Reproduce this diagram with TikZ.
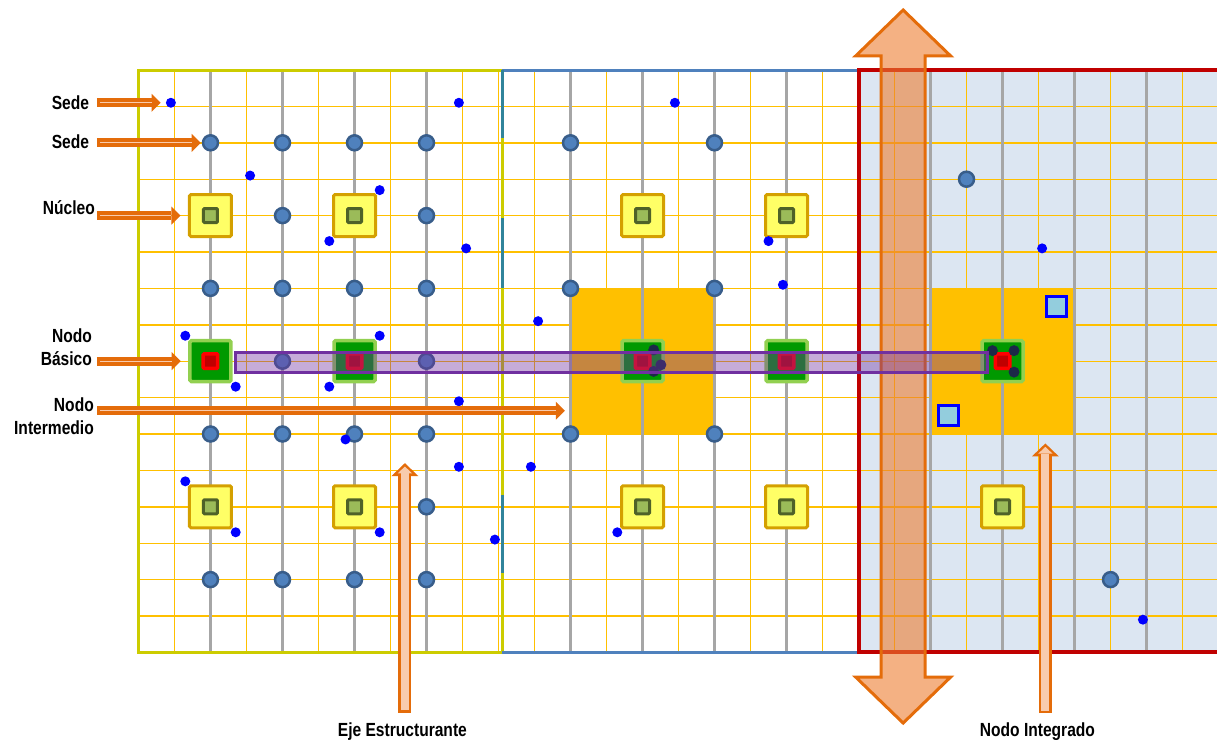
\documentclass[tikz,border=0pt]{standalone}
\usepackage{fontspec}
\newfontfamily\labfont{Liberation Sans}[FakeStretch=0.82]
\usetikzlibrary{arrows.meta}

\begin{document}
\begin{tikzpicture}[x=36pt, y=-36.4pt, line join=miter,
  >={Triangle[length=9pt, width=18pt, line width=0pt]},
  lab/.style={font=\labfont\bfseries\fontsize{19}{23}\selectfont, align=right, anchor=base east, inner sep=0pt},
  blab/.style={font=\labfont\bfseries\fontsize{19}{23}\selectfont, anchor=base, inner sep=0pt},
  gridy/.style={draw=gridc, line width=1.4pt},
  eje/.style={draw=ejec, line width=3.6pt},
  sede/.style={circle, draw=sedeb, fill=sedef, line width=2.5pt, minimum size=15pt, inner sep=0pt},
  bdot/.style={circle, fill=dotc, minimum size=10pt, inner sep=0pt},
  kdot/.style={circle, fill=kc, minimum size=11pt, inner sep=0pt},
  nucleo/.style={draw=nucb, fill=nucf, line width=3pt, rounded corners=1.5pt, minimum size=42pt, inner sep=0pt},
  nucin/.style={draw=nucib, fill=nucif, line width=3pt, rounded corners=1pt, minimum size=14pt, inner sep=0pt},
  basico/.style={draw=basb, fill=basf, line width=3.5pt, rounded corners=1.5pt, minimum size=41pt, inner sep=0pt},
  basin/.style={draw=red, fill=basif, line width=3.5pt, rounded corners=1pt, minimum size=14.5pt, inner sep=0pt},
  inter/.style={draw=interb, fill=interf, line width=1.2pt, minimum width=144pt, minimum height=145.6pt, inner sep=0pt},
  lbsq/.style={draw=blue, fill=lbf, line width=3pt, minimum size=20pt, inner sep=0pt},
  larr/.style={draw=arrc, line width=9pt, ->,
    postaction={draw=arrf, line width=1.3pt, -, shorten >=9pt, shorten <=3pt}},
  varr/.style={draw=arrc, line width=13pt, -{Triangle[length=13pt, width=27pt, line width=0pt]},
    postaction={draw=arrf, line width=8pt, -{Triangle[length=6.8pt, width=14.4pt, line width=0pt]}, shorten >=3.4pt, shorten <=2.5pt}},
  bigarr/.style={draw=arrc, line width=3pt, fill=arrc2, fill opacity=0.6},
]
\definecolor{gridc}{HTML}{FFC000}
\definecolor{ejec}{HTML}{A6A6A6}
\definecolor{sedef}{HTML}{4F81BD}
\definecolor{sedeb}{HTML}{385D8A}
\definecolor{dotc}{HTML}{0000FF}
\definecolor{kc}{HTML}{1C2A48}
\definecolor{nucf}{HTML}{FFFF66}
\definecolor{nucb}{HTML}{D4A000}
\definecolor{nucif}{HTML}{9BBB59}
\definecolor{nucib}{HTML}{4F6228}
\definecolor{basf}{HTML}{009900}
\definecolor{basb}{HTML}{92D050}
\definecolor{basif}{HTML}{C00000}
\definecolor{interf}{HTML}{FFC000}
\definecolor{interb}{HTML}{BF9000}
\definecolor{lbf}{HTML}{93CDDD}
\definecolor{regf}{HTML}{DCE6F2}
\definecolor{frl}{HTML}{CCCC00}
\definecolor{frm}{HTML}{4F81BD}
\definecolor{frt}{HTML}{31849B}
\definecolor{frr}{HTML}{C00000}
\definecolor{purp}{HTML}{7030A0}
\definecolor{arrc}{HTML}{E46C0A}
\definecolor{arrf}{HTML}{F8CBAD}
\definecolor{arrc2}{HTML}{ED7D31}
\useasboundingbox (-3.847,-1.923) rectangle (29.958,18.434);

% ---------------- background and grid ----------------
\fill[regf] (20,0) rectangle (29.958,16);
\node[inter] (osq1) at (14,8) {};
\node[inter] (osq2) at (24,8) {};
\foreach \i in {1,...,29} \draw[gridy] (\i,0) -- (\i,16);
\foreach \j in {1,...,15} \draw[gridy] (0,\j) -- (29.958,\j);
\foreach \i in {2,4,6,8,12,14,16,18,22,24,26,28} \draw[eje] (\i,0) -- (\i,16);
% frames of the three zones
\draw[frl, line width=3pt] (0,0) rectangle (10.1,16);
\draw[frm, line width=3pt] (10.1,0) -- (20,0) (10.1,16) -- (20,16);
\foreach \a/\b in {0/1.87, 4.07/5.99, 11.67/13.83} \draw[frt, line width=3pt] (10.1,\a) -- (10.1,\b);
\draw[frr, line width=4pt] (29.958,0) -- (20,0) -- (20,16) -- (29.958,16);

% ---------------- nodes ----------------
\foreach \i/\j in {2/2,4/2,6/2,8/2,12/2,16/2, 4/4,8/4, 2/6,4/6,6/6,8/6,12/6,16/6, 4/8,8/8,
    2/10,4/10,6/10,8/10,12/10,16/10, 8/12, 2/14,4/14,6/14,8/14, 23/3,27/14}
  \node[sede] (s-\i-\j) at (\i,\j) {};
\foreach \i/\j in {2/4,6/4,14/4,18/4, 2/12,6/12,14/12,18/12,24/12} {
  \node[nucleo] (n-\i-\j) at (\i,\j) {};
  \node[nucin] (ni-\i-\j) at (n-\i-\j) {};
}
\foreach \i in {2,6,14,18,24} {
  \node[basico] (g-\i) at (\i,8) {};
  \node[basin] (gi-\i) at (g-\i) {};
}
\foreach \i/\j [count=\k] in {0.9/0.9, 8.9/0.9, 14.9/0.9, 3.1/2.9, 6.7/3.3, 5.3/4.7, 9.1/4.9,
    17.5/4.7, 17.9/5.9, 11.1/6.9, 25.1/4.9, 1.3/7.3, 6.7/7.3, 2.7/8.7, 5.3/8.7, 8.9/9.1,
    5.75/10.15, 8.9/10.9, 10.9/10.9, 1.3/11.3, 2.7/12.7, 6.7/12.7, 9.9/12.9, 13.3/12.7, 27.9/15.1}
  \node[bdot] (b\k) at (\i,\j) {};
\foreach \i/\j [count=\k] in {14.31/7.69, 14.51/8.10, 14.31/8.28, 23.72/7.71, 24.32/7.71, 24.32/8.30}
  \node[kdot] (k\k) at (\i,\j) {};
\node[lbsq] (q1) at (25.5,6.5) {};
\node[lbsq] (q2) at (22.5,9.5) {};

% big two-way arrow and the axis band
\draw[bigarr] (21.24,-1.648) -- (22.56,-0.385) -- (21.85,-0.385) -- (21.85,16.676) -- (22.56,16.676)
  -- (21.24,17.94) -- (19.92,16.676) -- (20.63,16.676) -- (20.63,-0.385) -- (19.92,-0.385) -- cycle;
\draw[purp, line width=3pt, fill=purp, fill opacity=0.4] (2.708,7.756) rectangle (23.57,8.316);

% ---------------- labels ----------------
\node[lab] (l-sede1) at (-1.367,1.08) {Sede};
\node[lab] (l-sede2) at (-1.367,2.15) {Sede};
\node[lab] (l-nuc) at (-1.208,3.96) {Núcleo};
\node[lab] (l-bas) at (-1.29,8.11) {Nodo\\Básico};
\node[lab] (l-int) at (-1.236,10.02) {Nodo\\Intermedio};
\node[blab] (l-eje) at (7.33,18.30) {Eje Estructurante};
\node[blab] (l-ing) at (24.97,18.30) {Nodo Integrado};
\coordinate (tail) at (-1.153,0);
\coordinate (tint) at (-1.153,9.36);
\coordinate (ejetail) at (7.4,17.66);
\coordinate (ejetip) at (7.4,10.8);
\coordinate (ingtail) at (25.19,17.67);
\coordinate (ingtip) at (25.19,10.26);
\draw[larr] (tail |- b1) -- ([xshift=-5pt]b1.west);
\draw[larr] (tail |- s-2-2) -- ([xshift=-1pt]s-2-2.west);
\draw[larr] (tail |- n-2-4) -- ([xshift=-7.5pt]n-2-4.west);
\draw[larr] (tail |- g-2) -- ([xshift=-7.5pt]g-2.west);
\draw[larr] (tint) -- ([xshift=-5pt]tint -| osq1.west);
\draw[varr] (ejetail) -- (ejetip);
\draw[varr] (ingtail) -- (ingtip);
\end{tikzpicture}
\end{document}
